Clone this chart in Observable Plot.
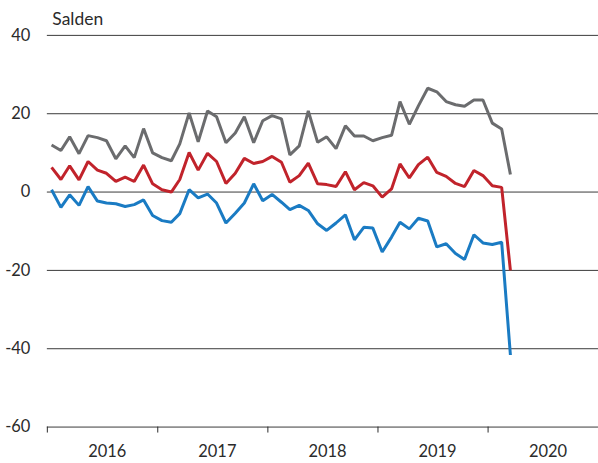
<!DOCTYPE html>
<html>
<head>
<meta charset="utf-8">
<script src="https://cdn.jsdelivr.net/npm/d3@7"></script>
<script src="https://cdn.jsdelivr.net/npm/@observablehq/plot@0.6"></script>
<style>
  html, body { margin: 0; padding: 0; background: #fff; overflow: hidden; }
  #chart svg { display: block; }
</style>
</head>
<body>
<div id="chart"></div>
<script>
// Monthly data, January 2016 – March 2020
const firstMonth = "2016-01";
const seriesGray = [12, 10.6, 14.1, 9.8, 14.4, 13.9, 13.1, 8.5, 11.8, 8.8,
  16.2, 10, 8.8, 8, 12.3, 20.2, 12.8, 20.7, 19.2, 12.6,
  15.1, 19.2, 12.6, 18.2, 19.5, 18.7, 9.5, 11.8, 20.7, 12.7,
  14.1, 11.1, 16.9, 14.3, 14.3, 13.1, 13.9, 14.5, 23.1, 17.3,
  22, 26.5, 25.6, 23.1, 22.3, 21.9, 23.5, 23.5, 17.6, 16.1,
  4.5];
const seriesRed = [6.3, 3.2, 6.7, 3.1, 7.8, 5.6, 4.8, 2.7, 3.8, 2.7,
  6.9, 2.1, 0.6, 0, 3.2, 10.1, 5.6, 9.9, 7.8, 2.2,
  4.8, 8.6, 7.3, 7.8, 9.1, 7.6, 2.5, 4.2, 7.4, 2.1,
  1.9, 1.4, 5.2, 0.6, 2.4, 1.6, -1.3, 0.8, 7.2, 3.6,
  7, 8.9, 5, 4, 2.2, 1.4, 5.5, 4.2, 1.6, 1.2,
  -20];
const seriesBlue = [0.6, -3.9, -0.7, -3.4, 1.4, -2.3, -2.8, -3, -3.7, -3.2,
  -2, -6, -7.3, -7.7, -5.5, 0.6, -1.5, -0.5, -2.8, -7.9,
  -5.4, -2.8, 2.1, -2.2, -0.6, -2.6, -4.5, -3.4, -4.7, -8.1,
  -9.8, -7.9, -5.8, -12.2, -9, -9.2, -15.3, -11.5, -7.7, -9.4,
  -6.7, -7.4, -14, -13.2, -15.7, -17.2, -10.9, -13, -13.4, -12.8,
  -41.6];
const yTicks = [40, 20, 0, -20, -40, -60];
const yearLabels = [2016, 2017, 2018, 2019, 2020];
const yLabel = "Salden";

const start = d3.utcParse("%Y-%m")(firstMonth);
const dateAt = i => d3.utcDay.offset(d3.utcMonth.offset(start, i), 14);
const rows = [];
[["gray", seriesGray], ["red", seriesRed], ["blue", seriesBlue]].forEach(([name, vals]) => {
  vals.forEach((v, i) => rows.push({series: name, date: dateAt(i), value: v}));
});

const yearStarts = yearLabels.map(y => new Date(Date.UTC(y, 0, 1)));
const yearMids = yearLabels.map(y => new Date(Date.UTC(y, 6, 1)));
const colors = {gray: "#6b6c6e", red: "#c1232b", blue: "#1a7bc3"};

const chart = Plot.plot({
  width: 600,
  height: 463,
  marginLeft: 47,
  marginRight: 0,
  marginTop: 35,
  marginBottom: 35,
  style: {fontFamily: "Lato, sans-serif", fontSize: "16px", color: "#2b2b2b", background: "#fff"},
  x: {type: "utc", domain: [new Date(Date.UTC(2016, 0, 1)), new Date(Date.UTC(2021, 0, 1))]},
  y: {domain: [-60, 40]},
  marks: [
    Plot.ruleY(yTicks, {stroke: "#3a3a3a", strokeWidth: 1}),
    Plot.axisY({ticks: yTicks, tickSize: 0, tickPadding: 17, label: null, fontSize: 16.5, tickFormat: d => String(d)}),
    Plot.axisX({ticks: yearStarts, tickSize: 6, tickFormat: () => "", label: null, stroke: "#2b2b2b"}),
    Plot.axisX({ticks: yearMids, tickSize: 0, tickPadding: 18, tickFormat: d3.utcFormat("%Y"), label: null, dx: 5, fontSize: 16.5}),
    Plot.text([yLabel], {text: d => d, frameAnchor: "top-left", textAnchor: "start", lineAnchor: "middle", dx: 5, dy: -16, fontSize: 17.5, fill: "#2b2b2b"}),
    Plot.line(rows, {x: "date", y: "value", z: "series", stroke: d => colors[d.series], strokeWidth: 3, strokeLinejoin: "miter", strokeLinecap: "butt"})
  ]
});
document.getElementById("chart").append(chart);
</script>
</body>
</html>
